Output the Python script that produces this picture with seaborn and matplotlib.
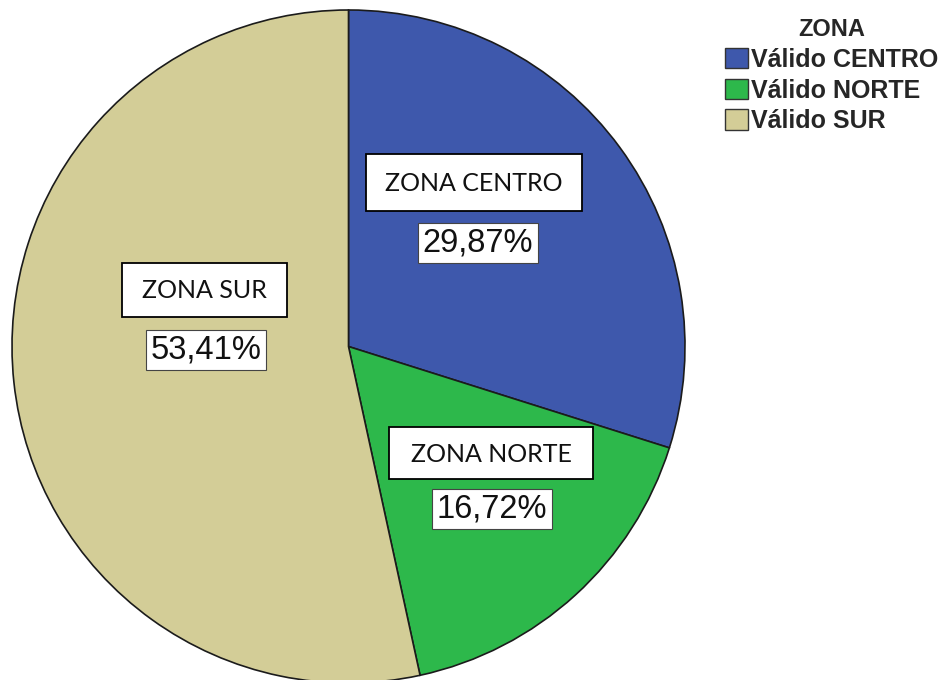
import matplotlib
matplotlib.use('Agg')
import matplotlib.pyplot as plt
import seaborn as sns
from matplotlib.patches import Rectangle, Patch

### Data
############################################################################
zonas = ['CENTRO', 'NORTE', 'SUR']
porcentajes = [29.87, 16.72, 53.41]
leyenda = ['Válido CENTRO', 'Válido NORTE', 'Válido SUR']
etiquetas = ['ZONA CENTRO', 'ZONA NORTE', 'ZONA SUR']
colores = ['#3E58AC', '#2DB84B', '#D3CD97']

sns.set_theme(style='white')
plt.rcParams['font.family'] = ['Liberation Sans', 'DejaVu Sans']

W, H = 953, 680
fig = plt.figure(figsize=(W / 100, H / 100), dpi=100)
fig.patch.set_facecolor('white')

# pie centre and radius in pixels
cx, cy, r = 348.5, 346.5, 336.5
ax = fig.add_axes([(cx - r) / W, (H - cy - r) / H, 2 * r / W, 2 * r / H])
ax.pie(porcentajes, colors=colores, startangle=90, counterclock=False, radius=1,
       wedgeprops=dict(edgecolor='#1b1b1b', linewidth=1.2))
ax.set_xlim(-1, 1); ax.set_ylim(-1, 1)
ax.set_aspect('equal')
ax.axis('off')

def fx(x): return x / W
def fy(y): return 1 - y / H

# label boxes (pixel layout): name box centre + size, percent centre
caja = {
	'CENTRO': [(474, 182.5), (216, 57), (478, 243)],
	'NORTE': [(491, 453), (204, 52), (492, 509)],
	'SUR': [(204.5, 290), (165, 54), (206, 350)],
}

for zona, etq, val in zip(zonas, etiquetas, porcentajes):
	(bx, by), (bw, bh), (px, py) = caja[zona]
	fig.patches.append(Rectangle((fx(bx - bw / 2), fy(by + bh / 2)), bw / W, bh / H,
		transform=fig.transFigure, facecolor='white', edgecolor='black', linewidth=1.3))
	fig.text(fx(bx), fy(by + 1), etq, ha='center', va='center', fontsize=18,
		family=['Lato', 'DejaVu Sans'], color='#111111')
	txt = f"{val:.2f}".replace('.', ',') + '%'
	fig.text(fx(px), fy(py), txt, ha='center', va='center', fontsize=23.5, color='#111111',
		bbox=dict(boxstyle='square,pad=0.15', facecolor='white', edgecolor='#444444', linewidth=0.8))

# legend
handles = [Patch(facecolor=c, edgecolor='#333333', linewidth=1.0) for c in colores]
leg = fig.legend(handles, leyenda, title='ZONA', loc='upper left',
	bbox_to_anchor=(fx(725), fy(18)), frameon=False,
	prop=dict(weight='bold', size=18), title_fontproperties=dict(weight='bold', size=17),
	handlelength=0.92, handleheight=0.88, handletextpad=0.12, labelspacing=0.27,
	borderpad=0, borderaxespad=0)

fig.savefig('out.png', dpi=100, facecolor='white')
